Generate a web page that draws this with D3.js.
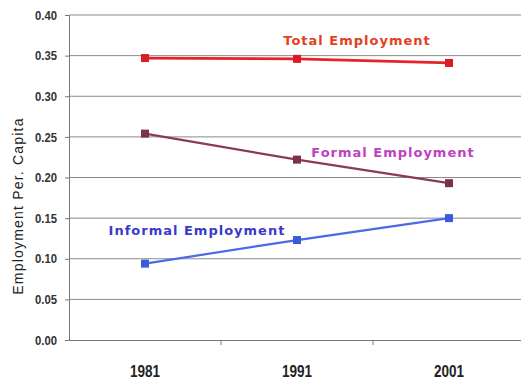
<!DOCTYPE html>
<html>
<head>
<meta charset="utf-8">
<script src="https://cdn.jsdelivr.net/npm/d3@7"></script>
<style>
  html, body { margin: 0; padding: 0; background: #fff; }
  svg { display: block; }
</style>
</head>
<body>
<script>
// Employment per capita by census year
const years = ["1981", "1991", "2001"];
const totalEmployment = [0.347, 0.346, 0.341];
const formalEmployment = [0.254, 0.222, 0.193];
const informalEmployment = [0.094, 0.123, 0.150];
const yTicks = [0.00, 0.05, 0.10, 0.15, 0.20, 0.25, 0.30, 0.35, 0.40];

(function () {
const W = 521, H = 386;
const svg = d3.select("body").append("svg").attr("width", W).attr("height", H);

const plotLeft = 69, plotRight = 525, plotTop = 15, plotBottom = 340;

const x = d3.scaleBand().domain(years).range([plotLeft, plotRight]);
const y = d3.scaleLinear().domain([0, 0.40]).range([plotBottom, plotTop]);

const tickFont = "'Liberation Sans', Arial, sans-serif";
const labelFont = "'DejaVu Sans', Verdana, sans-serif";

// horizontal gridlines
svg.append("g").selectAll("line").data(yTicks.slice(1)).join("line")
  .attr("x1", plotLeft).attr("x2", W)
  .attr("y1", d => y(d)).attr("y2", d => y(d))
  .attr("stroke", "#8a8a8a").attr("stroke-width", 1);

// y axis (condensed tick numbers)
const yAxis = svg.append("g").attr("transform", `translate(${plotLeft},0)`)
  .call(d3.axisLeft(y).tickValues(yTicks).tickFormat(d3.format(".2f")).tickSize(4).tickPadding(8));
yAxis.select(".domain").attr("stroke", "#777");
yAxis.selectAll(".tick line").attr("stroke", "#777");
yAxis.selectAll("text").attr("font-family", tickFont).attr("font-size", 13)
  .attr("font-weight", "bold").attr("fill", "#333")
  .attr("textLength", 22).attr("lengthAdjust", "spacingAndGlyphs");

// x axis
const xAxis = svg.append("g").attr("transform", `translate(0,${plotBottom})`)
  .call(d3.axisBottom(x).tickSize(0).tickPadding(26));
xAxis.select(".domain").attr("stroke", "#777");
xAxis.selectAll("text").attr("font-family", tickFont).attr("font-size", 16)
  .attr("font-weight", "bold").attr("fill", "#222")
  .attr("textLength", 30).attr("lengthAdjust", "spacingAndGlyphs");
// category separators
svg.append("g").selectAll("line").data(years.slice(1)).join("line")
  .attr("x1", d => x(d)).attr("x2", d => x(d))
  .attr("y1", plotBottom).attr("y2", plotBottom + 5)
  .attr("stroke", "#777");

// y axis title
svg.append("text")
  .attr("transform", `translate(23,206) rotate(-90)`)
  .attr("text-anchor", "middle")
  .attr("font-family", "'Liberation Sans', Arial, sans-serif")
  .attr("font-size", 14).attr("letter-spacing", 1.2).attr("fill", "#222")
  .text("Employment Per. Capita");

const series = [
  { name: "Total Employment", values: totalEmployment, line: "#e8202a", marker: "#d81c28",
    width: 2.8, label: "#e4401e", lx: 357, ly: 45 },
  { name: "Formal Employment", values: formalEmployment, line: "#8a3a58", marker: "#7a3050",
    width: 2.2, label: "#c040c0", lx: 393, ly: 157 },
  { name: "Informal Employment", values: informalEmployment, line: "#4a6ae8", marker: "#3a5ad8",
    width: 2.2, label: "#3a3ac8", lx: 197, ly: 235 }
];

const cx = d => x(d) + x.bandwidth() / 2;
const line = d3.line().x(d => cx(d.year)).y(d => y(d.v));

series.forEach(s => {
  const pts = years.map((yr, i) => ({ year: yr, v: s.values[i] }));
  svg.append("path").datum(pts)
    .attr("d", line).attr("fill", "none")
    .attr("stroke", s.line).attr("stroke-width", s.width);
  svg.append("g").selectAll("rect").data(pts).join("rect")
    .attr("x", d => cx(d.year) - 4).attr("y", d => y(d.v) - 4)
    .attr("width", 8).attr("height", 8)
    .attr("fill", s.marker);
  svg.append("text")
    .attr("x", s.lx).attr("y", s.ly)
    .attr("text-anchor", "middle")
    .attr("font-family", labelFont)
    .attr("font-weight", "bold").attr("font-size", 13)
    .attr("letter-spacing", 1)
    .attr("fill", s.label)
    .text(s.name);
});
})();
</script>
</body>
</html>
